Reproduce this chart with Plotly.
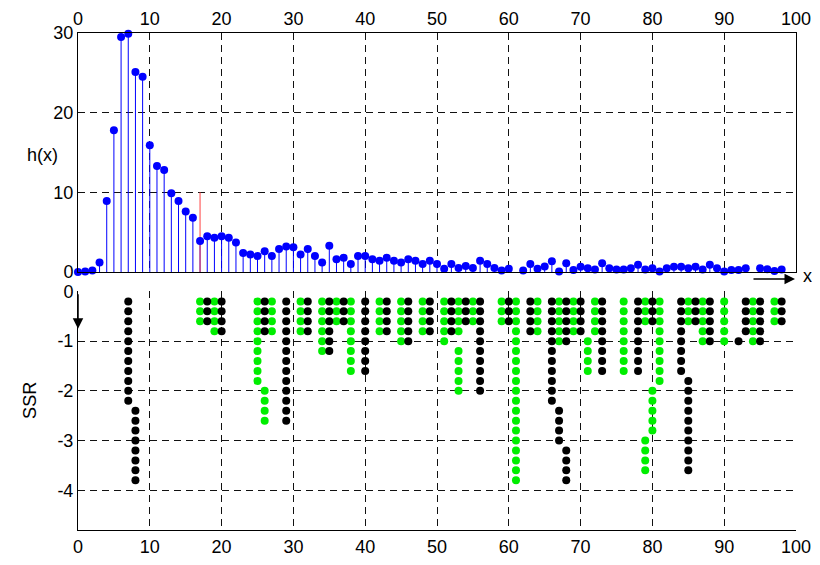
import plotly.graph_objects as go

# ---------------- data ----------------
x_vals = list(range(100))
h_vals = [0.0, 0.05, 0.2, 1.2, 8.9, 17.8, 29.5, 29.9, 25.1, 24.5,
          15.9, 13.3, 12.8, 9.9, 8.9, 7.6, 6.8, 3.9, 4.5, 4.3,
          4.5, 4.3, 3.7, 2.4, 2.2, 2.0, 2.6, 2.0, 2.9, 3.2,
          3.1, 2.2, 2.9, 2.0, 1.2, 3.3, 1.6, 1.8, 1.0, 2.0,
          2.0, 1.6, 1.4, 1.8, 1.4, 1.2, 1.6, 1.4, 1.0, 1.4,
          1.0, 0.4, 1.0, 0.5, 0.75, 0.5, 1.4, 1.0, 0.5, 0.2,
          0.4, -0.15, 0.2, 1.0, 0.4, 0.7, 1.35, 0.05, 1.1, 0.25,
          0.67, 0.46, 0.3, 1.1, 0.46, 0.3, 0.3, 0.46, 0.9, 0.3,
          0.46, 0.05, 0.46, 0.67, 0.67, 0.46, 0.67, 0.3, 0.9, 0.46,
          0.05, 0.25, 0.25, 0.46, -0.2, 0.46, 0.35, 0.12, 0.3, -0.15]

red_x = 17
red_h = 10

# SSR dot columns: x position, first level, last level (level k -> SSR = -0.2*k)
ssr_step = 0.2
green_x = [17, 19, 25, 26, 27, 31, 34, 36, 38, 42, 45, 48, 51, 53, 53, 55, 59, 61, 64,
           67, 69, 71, 72, 76, 79, 79, 80, 81, 85, 87, 90, 94, 97]
green_from = [1, 1, 1, 10, 1, 1, 1, 1, 1, 1, 1, 1, 1, 1, 6, 1, 1, 1, 1,
              1, 1, 5, 1, 1, 1, 15, 10, 1, 1, 1, 1, 1, 1]
green_to = [3, 4, 9, 13, 4, 4, 6, 3, 8, 4, 5, 4, 5, 4, 10, 3, 3, 19, 4,
            5, 4, 8, 4, 8, 3, 18, 14, 9, 3, 5, 5, 5, 3]

black_x = [7, 8, 18, 20, 26, 29, 32, 35, 37, 40, 43, 46, 49, 52, 54, 56, 60, 63,
           66, 67, 68, 68, 70, 73, 78, 80, 84, 85, 86, 88, 92, 93, 95, 98]
black_from = [1, 12, 1, 1, 1, 1, 1, 1, 1, 1, 1, 1, 1, 1, 1, 1, 1, 1,
              1, 12, 1, 16, 1, 1, 1, 1, 1, 9, 1, 1, 5, 1, 1, 1]
black_to = [11, 19, 3, 4, 4, 13, 4, 6, 3, 8, 4, 5, 4, 4, 3, 10, 3, 4,
            11, 15, 5, 19, 4, 8, 8, 3, 8, 18, 3, 5, 5, 4, 5, 3]

top_xticks = [0, 10, 20, 30, 40, 50, 60, 70, 80, 90, 100]
top_yticks = [0, 10, 20, 30]
bot_yticks = [0, -1, -2, -3, -4]
bot_yticklabels = ["0", "-1", "-2", "-3", "-4"]


def expand(xs, k0s, k1s):
    px, py = [], []
    for xv, a, b in zip(xs, k0s, k1s):
        for k in range(a, b + 1):
            px.append(xv)
            py.append(-ssr_step * k)
    return px, py


stem_x, stem_y = [], []
for xv, hv in zip(x_vals, h_vals):
    stem_x += [xv, xv, None]
    stem_y += [0, hv, None]

gx, gy = expand(green_x, green_from, green_to)
bx, by = expand(black_x, black_from, black_to)

# ---------------- figure ----------------
FONT = "Liberation Sans, Arial, Helvetica, sans-serif"
fig = go.Figure()

fig.add_trace(go.Scatter(x=stem_x, y=stem_y, mode="lines",
                         line=dict(color="#0000ff", width=1),
                         xaxis="x", yaxis="y", hoverinfo="skip",
                         showlegend=False, cliponaxis=False))
fig.add_trace(go.Scatter(x=[red_x, red_x], y=[0, red_h], mode="lines",
                         line=dict(color="#ff4040", width=1),
                         xaxis="x", yaxis="y", showlegend=False))
fig.add_trace(go.Scatter(x=x_vals, y=h_vals, mode="markers",
                         marker=dict(color="#0000ff", size=8),
                         xaxis="x", yaxis="y", showlegend=False,
                         cliponaxis=False))

fig.add_trace(go.Scatter(x=gx, y=gy, mode="markers",
                         marker=dict(color="#00ee00", size=8),
                         xaxis="x2", yaxis="y2", showlegend=False))
fig.add_trace(go.Scatter(x=bx, y=by, mode="markers",
                         marker=dict(color="#000000", size=8),
                         xaxis="x2", yaxis="y2", showlegend=False))

GRID = dict(showgrid=True, gridcolor="#111111", gridwidth=1, griddash="7px,5px",
            automargin=False)

# the page body adds an 8px offset, so the figure is 812x557
fig.update_layout(
    width=812, height=557,
    margin=dict(l=70, r=24, t=25, b=35, autoexpand=False),
    paper_bgcolor="white", plot_bgcolor="white",
    font=dict(family=FONT, size=18, color="black"),
    showlegend=False,
    xaxis=dict(domain=[0, 1], range=[0, 100], side="top", anchor="y",
               tickvals=top_xticks, showline=True, linecolor="black",
               linewidth=1, mirror=True, zeroline=False, ticks="",
               tickfont=dict(size=18), **GRID),
    yaxis=dict(domain=[0.5191, 1], range=[0, 30], anchor="x",
               tickvals=top_yticks, showline=True, linecolor="black",
               linewidth=1, mirror=True, zeroline=False, ticks="",
               tickfont=dict(size=18), **GRID),
    xaxis2=dict(domain=[0, 1], range=[0, 100], side="bottom", anchor="y2",
                tickvals=top_xticks, showline=True, linecolor="black",
                linewidth=1, zeroline=False, ticks="",
                tickfont=dict(size=18), **GRID),
    yaxis2=dict(domain=[0, 0.4799], range=[-4.8, 0], anchor="x2",
                tickvals=bot_yticks, ticktext=bot_yticklabels,
                showline=True, linecolor="black", linewidth=1,
                zeroline=False, ticks="", tickfont=dict(size=18), **GRID),
)

# axis labels and arrows
fig.add_annotation(text="h(x)", xref="paper", yref="paper", x=-0.025, y=0.754,
                   showarrow=False, xanchor="right", yanchor="middle",
                   font=dict(size=18))
fig.add_annotation(text="SSR", xref="paper", yref="paper", x=-0.05, y=0.26,
                   showarrow=False, textangle=-90, xanchor="right",
                   yanchor="middle", font=dict(size=18))
fig.add_annotation(text="x", xref="paper", yref="paper", x=1.009, y=0.512,
                   showarrow=False, xanchor="left", yanchor="middle",
                   borderpad=0, font=dict(size=18))
fig.add_annotation(x=0.9986, y=0.505, xref="paper", yref="paper",
                   ax=-43, ay=0, axref="pixel", ayref="pixel", text="",
                   showarrow=True, arrowhead=2, arrowsize=1.4, arrowwidth=1.5,
                   arrowcolor="black")
fig.add_annotation(x=0.0, y=0.405, xref="paper", yref="paper",
                   ax=0, ay=-36, axref="pixel", ayref="pixel", text="",
                   showarrow=True, arrowhead=2, arrowsize=1.4, arrowwidth=1.5,
                   arrowcolor="black")

fig.write_html("out.html")
